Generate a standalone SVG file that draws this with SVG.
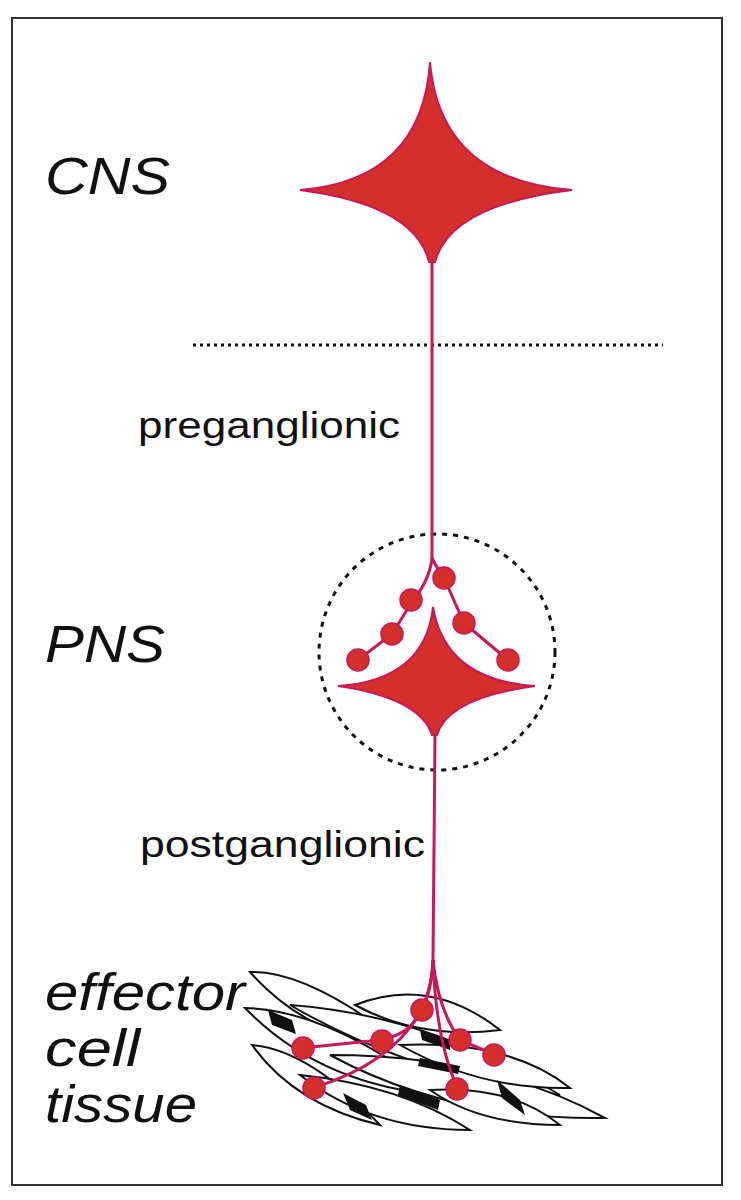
<svg xmlns="http://www.w3.org/2000/svg" width="741" height="1200" viewBox="0 0 741 1200">
<style>
.lbl{font-family:"Liberation Sans",Arial,sans-serif;fill:#111}
.big{font-size:52px;font-style:italic}
.sm{font-size:36px}
.soma{fill:#d3302c;stroke:#c8175a;stroke-width:2}
.ax{fill:none;stroke:#c8175a;stroke-width:3}
.bt{fill:#d3302c;stroke:#c8175a;stroke-width:1.5}
.cell{fill:#fff;stroke:#111;stroke-width:2}
.nuc{fill:#111}
</style>
<rect x="12" y="18" width="710" height="1167" fill="#fff" stroke="#333" stroke-width="2"/>
<line x1="193" y1="345" x2="663" y2="345" stroke="#111" stroke-width="3" stroke-dasharray="3 4"/>
<circle cx="437" cy="652" r="118" fill="none" stroke="#111" stroke-width="3" stroke-dasharray="5 6"/>
<g id="tissue">
<path class="cell" d="M250,972 Q310,970 410,1050 Q310,1040 250,972 Z"/>
<path class="cell" d="M245,1008 Q330,1010 440,1095 Q320,1085 245,1008 Z"/>
<path class="cell" d="M252,1045 Q310,1050 380,1125 Q295,1105 252,1045 Z"/>
<path class="cell" d="M290,1005 Q430,1015 560,1095 Q410,1075 290,1005 Z"/>
<path class="cell" d="M355,1005 Q430,975 500,1030 Q420,1040 355,1005 Z"/>
<path class="cell" d="M330,1055 Q490,1055 605,1118 Q450,1120 330,1055 Z"/>
<path class="cell" d="M400,1045 Q510,1040 570,1088 Q480,1090 400,1045 Z"/>
<path class="cell" d="M300,1075 Q400,1085 470,1130 Q370,1130 300,1075 Z"/>
<path class="cell" d="M430,1090 Q510,1085 560,1125 Q480,1125 430,1090 Z"/>
<polygon class="nuc" points="268,1010 292,1020 296,1034 272,1025"/>
<polygon class="nuc" points="420,1030 450,1040 450,1050 422,1040"/>
<polygon class="nuc" points="400,1085 440,1100 438,1110 398,1095"/>
<polygon class="nuc" points="343,1093 366,1105 372,1120 350,1110"/>
<polygon class="nuc" points="497,1080 520,1100 525,1115 502,1098"/>
<polygon class="nuc" points="420,1058 460,1066 458,1074 418,1066"/>
</g>
<g id="cns-neuron">
<path class="soma" d="M430,62 Q440,180 572,190 Q450,205 435,262 L429,262 Q415,205 300,190 Q422,180 430,62 Z"/>
</g>
<g id="pns-neuron">
<path class="soma" d="M433,607 Q445,680 535,686 Q448,698 437,735 L432,735 Q420,698 338,686 Q425,680 433,607 Z"/>
</g>
<g id="connectors">
<path class="ax" d="M432,262 L432,558 Q430,580 410,605 L392,634 L358,660"/>
<path class="ax" d="M432,558 Q438,570 444,578 L464,623 L508,660"/>
<path class="ax" d="M435,735 L433,960 Q432,990 422,1010 Q410,1035 380,1040 L302,1048"/>
<path class="ax" d="M433,960 Q430,1050 316,1087"/>
<path class="ax" d="M433,960 Q438,1010 460,1040 L493,1054"/>
<path class="ax" d="M433,960 Q436,1040 457,1087"/>
</g>
<g id="boutons">
<circle class="bt" cx="444" cy="578" r="11"/>
<circle class="bt" cx="411" cy="600" r="11"/>
<circle class="bt" cx="392" cy="634" r="11"/>
<circle class="bt" cx="358" cy="660" r="11"/>
<circle class="bt" cx="464" cy="623" r="11"/>
<circle class="bt" cx="508" cy="660" r="11"/>
<circle class="bt" cx="422" cy="1010" r="11"/>
<circle class="bt" cx="382" cy="1041" r="11"/>
<circle class="bt" cx="303" cy="1048" r="11"/>
<circle class="bt" cx="314" cy="1088" r="11"/>
<circle class="bt" cx="460" cy="1040" r="11"/>
<circle class="bt" cx="494" cy="1055" r="11"/>
<circle class="bt" cx="457" cy="1089" r="11"/>
</g>
<g id="labels">
<text class="lbl big" x="45" y="194" textLength="125" lengthAdjust="spacingAndGlyphs">CNS</text>
<text class="lbl sm" x="138" y="438" textLength="262" lengthAdjust="spacingAndGlyphs">preganglionic</text>
<text class="lbl big" x="45" y="662" textLength="120" lengthAdjust="spacingAndGlyphs">PNS</text>
<text class="lbl sm" x="140" y="857" textLength="285" lengthAdjust="spacingAndGlyphs">postganglionic</text>
<text class="lbl big" x="45" y="1010" textLength="200" lengthAdjust="spacingAndGlyphs">effector</text>
<text class="lbl big" x="45" y="1066" textLength="95" lengthAdjust="spacingAndGlyphs">cell</text>
<text class="lbl big" x="45" y="1122" textLength="152" lengthAdjust="spacingAndGlyphs">tissue</text>
</g>
</svg>
